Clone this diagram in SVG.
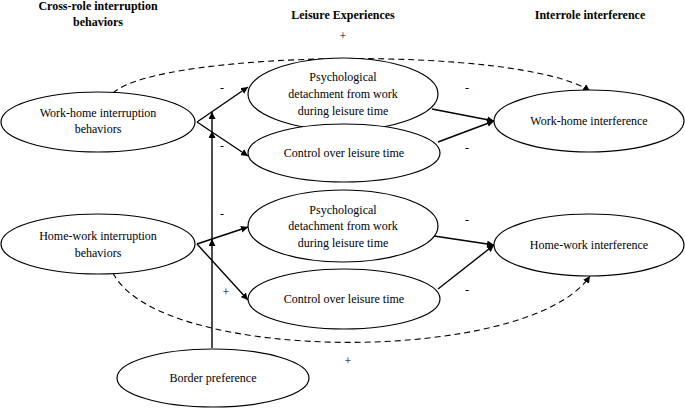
<svg xmlns="http://www.w3.org/2000/svg" width="685" height="408" viewBox="0 0 685 408">
<style>
.n ellipse{fill:#fff;stroke:#000;stroke-width:1.2}
text{font-family:"Liberation Serif","Times New Roman",serif;font-size:12px;fill:#000;text-anchor:middle}
.h{font-weight:bold}
.c line,.c path{stroke:#000;stroke-width:1.4;fill:none}
.c .d{stroke-dasharray:6,4;stroke-width:1.1}
</style>
<defs>
<marker id="a" viewBox="0 0 10 10" refX="10" refY="5" markerWidth="7" markerHeight="7" orient="auto" markerUnits="userSpaceOnUse">
<path d="M0,0 L10,5 L0,10 z" fill="#000"/>
</marker>
</defs>
<g id="headers">
<text class="h" x="98" y="10">Cross-role interruption</text>
<text class="h" x="98" y="26">behaviors</text>
<text class="h" x="343" y="19">Leisure Experiences</text>
<text class="h" x="590" y="19">Interrole interference</text>
</g>
<g class="c" id="connectors">
<path class="d" d="M113,93 C160,50 520,45 590,91" marker-end="url(#a)"/>
<path class="d" d="M113,273 C160,365 530,365 590,276" marker-end="url(#a)"/>
<line x1="197" y1="122" x2="248" y2="87" marker-end="url(#a)"/>
<line x1="197" y1="122" x2="248" y2="156" marker-end="url(#a)"/>
<line x1="432" y1="109" x2="494" y2="121" marker-end="url(#a)"/>
<line x1="438" y1="142" x2="494" y2="121" marker-end="url(#a)"/>
<line x1="197" y1="244" x2="248" y2="227" marker-end="url(#a)"/>
<line x1="197" y1="244" x2="248" y2="300" marker-end="url(#a)"/>
<line x1="434" y1="236" x2="494" y2="245" marker-end="url(#a)"/>
<line x1="438" y1="289" x2="494" y2="245" marker-end="url(#a)"/>
<line x1="212" y1="348" x2="212" y2="239" marker-end="url(#a)"/>
<line x1="212" y1="240" x2="212" y2="131" marker-end="url(#a)"/>
<line x1="212" y1="132" x2="212" y2="112" marker-end="url(#a)"/>
</g>
<g id="signs">
<text x="343" y="40">+</text>
<text x="222" y="92">-</text>
<text x="222" y="150">-</text>
<text x="467" y="92">-</text>
<text x="467" y="152">-</text>
<text x="222" y="218">-</text>
<text x="226" y="296">+</text>
<text x="467" y="224">-</text>
<text x="467" y="294">-</text>
<text x="348" y="365">+</text>
</g>
<g class="n" id="wh-interruption"><ellipse cx="98" cy="122" rx="97" ry="30"/><text x="98" y="117">Work-home interruption</text><text x="98" y="133">behaviors</text></g>
<g class="n" id="psych1"><ellipse cx="343" cy="94" rx="95" ry="36"/><text x="343" y="81">Psychological</text><text x="343" y="98">detachment from work</text><text x="343" y="115">during leisure time</text></g>
<g class="n" id="control1"><ellipse cx="344" cy="153" rx="96" ry="29"/><text x="344" y="157">Control over leisure time</text></g>
<g class="n" id="wh-interference"><ellipse cx="589" cy="121" rx="95" ry="31"/><text x="589" y="125">Work-home interference</text></g>
<g class="n" id="hw-interruption"><ellipse cx="98" cy="244" rx="97" ry="30"/><text x="98" y="240">Home-work interruption</text><text x="98" y="257">behaviors</text></g>
<g class="n" id="psych2"><ellipse cx="343" cy="226" rx="95" ry="36"/><text x="343" y="214">Psychological</text><text x="343" y="230">detachment from work</text><text x="343" y="247">during leisure time</text></g>
<g class="n" id="control2"><ellipse cx="344" cy="299" rx="96" ry="30"/><text x="344" y="303">Control over leisure time</text></g>
<g class="n" id="hw-interference"><ellipse cx="589" cy="245" rx="95" ry="31"/><text x="589" y="249">Home-work interference</text></g>
<g class="n" id="border"><ellipse cx="213" cy="378" rx="96" ry="29"/><text x="213" y="382">Border preference</text></g>
</svg>
